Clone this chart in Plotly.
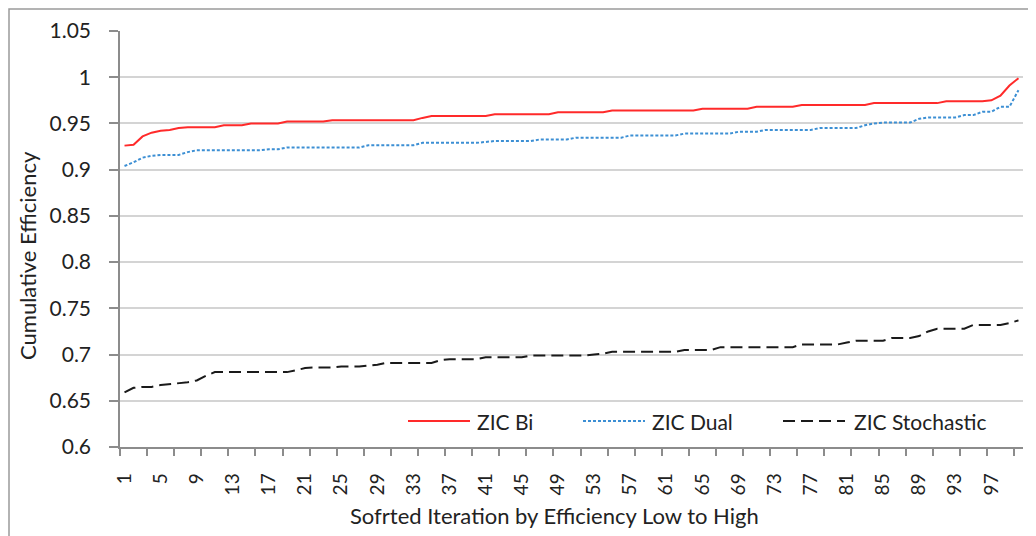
import plotly.graph_objects as go

iterations = list(range(1, 101))

zic_bi = [
    0.926, 0.927, 0.936, 0.940, 0.942, 0.943, 0.945, 0.946, 0.946, 0.946,
    0.946, 0.948, 0.948, 0.948, 0.950, 0.950, 0.950, 0.950, 0.952, 0.952,
    0.952, 0.952, 0.952, 0.9535, 0.9535, 0.9535, 0.9535, 0.9535, 0.9535, 0.9535,
    0.9535, 0.9535, 0.9535, 0.956, 0.958, 0.958, 0.958, 0.958, 0.958, 0.958,
    0.958, 0.960, 0.960, 0.960, 0.960, 0.960, 0.960, 0.960, 0.962, 0.962,
    0.962, 0.962, 0.962, 0.962, 0.964, 0.964, 0.964, 0.964, 0.964, 0.964,
    0.964, 0.964, 0.964, 0.964, 0.966, 0.966, 0.966, 0.966, 0.966, 0.966,
    0.968, 0.968, 0.968, 0.968, 0.968, 0.970, 0.970, 0.970, 0.970, 0.970,
    0.970, 0.970, 0.970, 0.972, 0.972, 0.972, 0.972, 0.972, 0.972, 0.972,
    0.972, 0.974, 0.974, 0.974, 0.974, 0.974, 0.975, 0.980, 0.991, 0.999,
]

zic_dual = [
    0.904, 0.908, 0.913, 0.915, 0.916, 0.916, 0.916, 0.919, 0.921, 0.921,
    0.921, 0.921, 0.921, 0.921, 0.921, 0.921, 0.922, 0.922, 0.924, 0.924,
    0.924, 0.924, 0.924, 0.924, 0.924, 0.924, 0.924, 0.9265, 0.9265, 0.9265,
    0.9265, 0.9265, 0.9265, 0.929, 0.929, 0.929, 0.929, 0.929, 0.929, 0.929,
    0.930, 0.931, 0.931, 0.931, 0.931, 0.931, 0.9327, 0.9327, 0.9327, 0.9327,
    0.9346, 0.9346, 0.9346, 0.9346, 0.9346, 0.9346, 0.937, 0.937, 0.937, 0.937,
    0.937, 0.937, 0.939, 0.939, 0.939, 0.939, 0.939, 0.939, 0.941, 0.941,
    0.941, 0.943, 0.943, 0.943, 0.943, 0.943, 0.943, 0.945, 0.945, 0.945,
    0.945, 0.945, 0.948, 0.950, 0.951, 0.951, 0.951, 0.951, 0.955, 0.9565,
    0.9565, 0.9565, 0.9565, 0.959, 0.959, 0.9626, 0.9626, 0.968, 0.968, 0.986,
]

zic_stochastic = [
    0.659, 0.664, 0.665, 0.665, 0.667, 0.668, 0.669, 0.670, 0.672, 0.677,
    0.681, 0.681, 0.681, 0.681, 0.681, 0.681, 0.681, 0.681, 0.681, 0.683,
    0.6855, 0.686, 0.686, 0.686, 0.687, 0.687, 0.687, 0.688, 0.689, 0.691,
    0.691, 0.691, 0.691, 0.691, 0.691, 0.694, 0.695, 0.695, 0.695, 0.695,
    0.697, 0.697, 0.697, 0.697, 0.697, 0.699, 0.699, 0.699, 0.699, 0.699,
    0.699, 0.699, 0.700, 0.701, 0.703, 0.703, 0.703, 0.703, 0.703, 0.703,
    0.703, 0.703, 0.705, 0.705, 0.705, 0.705, 0.708, 0.708, 0.708, 0.708,
    0.708, 0.708, 0.708, 0.708, 0.708, 0.711, 0.711, 0.711, 0.711, 0.711,
    0.713, 0.715, 0.715, 0.715, 0.715, 0.718, 0.718, 0.718, 0.720, 0.725,
    0.728, 0.728, 0.728, 0.728, 0.732, 0.732, 0.732, 0.732, 0.734, 0.737,
]

x_tick_vals = list(range(1, 101, 4))
x_tick_text = [str(v) for v in x_tick_vals]
y_tick_vals = [0.6, 0.65, 0.7, 0.75, 0.8, 0.85, 0.9, 0.95, 1.0, 1.05]
y_tick_text = ["0.6", "0.65", "0.7", "0.75", "0.8", "0.85", "0.9", "0.95", "1", "1.05"]

series_names = ["ZIC Bi", "ZIC Dual", "ZIC Stochastic"]
colors = ["#ff2a2a", "#3c8fd4", "#1a1a1a"]
dashes = ["solid", "3px,2px", "12px,6px"]

FONT = "Lato, 'Open Sans', sans-serif"
TXT = "#222222"
AX = "#8c8c8c"

# the page body adds an 8px offset; the figure is sized to fit the window
OFF = 8
W, H = 1036 - OFF, 536 - OFF
L, R, T, B = 120 - OFF, 13, 31 - OFF, 89
pw = W - L - R
ph = H - T - B

def px_to_paper_x(px):
    return (px - OFF - L) / pw

def px_to_paper_y(py):
    return (H - B - (py - OFF)) / ph

fig = go.Figure()
for name, vals, col, dash in zip(series_names, [zic_bi, zic_dual, zic_stochastic], colors, dashes):
    fig.add_trace(go.Scatter(
        x=iterations, y=vals, mode="lines", name=name,
        line=dict(color=col, width=2, dash=dash),
        showlegend=False,
    ))

shapes = []
annotations = []
# manual legend
legend_items = [(408, 470, 475), (583, 645, 650), (783, 845, 852)]
ly = px_to_paper_y(421)
for (x0, x1, xt), name, col, dash in zip(legend_items, series_names, colors, dashes):
    shapes.append(dict(type="line", xref="paper", yref="paper",
                       x0=px_to_paper_x(x0), x1=px_to_paper_x(x1), y0=ly, y1=ly,
                       line=dict(color=col, width=2, dash=dash)))
    annotations.append(dict(text=name, xref="paper", yref="paper",
                            x=px_to_paper_x(xt), y=ly, xanchor="left", yanchor="middle",
                            showarrow=False, font=dict(family=FONT, size=21, color=TXT)))

# outer chart border (kept just inside the figure's own edge)
shapes.append(dict(type="rect", xref="paper", yref="paper",
                   x0=px_to_paper_x(OFF + 1), x1=px_to_paper_x(1030),
                   y0=px_to_paper_y(560), y1=px_to_paper_y(OFF + 1),
                   line=dict(color="#9a9a9a", width=1.5), fillcolor="rgba(0,0,0,0)", layer="below"))

# axis titles
annotations.append(dict(text="Cumulative Efficiency", xref="paper", yref="paper",
                        x=px_to_paper_x(27), y=px_to_paper_y(256), textangle=-90,
                        xanchor="center", yanchor="middle", showarrow=False,
                        font=dict(family=FONT, size=22, color=TXT)))
annotations.append(dict(text="Sofrted Iteration by Efficiency Low to High", xref="paper", yref="paper",
                        x=px_to_paper_x(554), y=px_to_paper_y(515),
                        xanchor="center", yanchor="middle", showarrow=False,
                        font=dict(family=FONT, size=22, color=TXT)))

fig.update_layout(
    width=W, height=H,
    margin=dict(l=L, r=R, t=T, b=B, pad=0, autoexpand=False),
    paper_bgcolor="white", plot_bgcolor="white",
    shapes=shapes, annotations=annotations,
    font=dict(family=FONT, color=TXT),
    xaxis=dict(
        automargin=False,
        range=[0.5, 100.5], tickmode="array", tickvals=x_tick_vals, ticktext=x_tick_text,
        tickangle=-90, ticks="outside", ticklen=6, tickcolor="rgba(0,0,0,0)",
        ticklabelstandoff=11,
        tickfont=dict(family=FONT, size=19, color=TXT),
        showline=True, linecolor=AX, linewidth=1.5, showgrid=False, zeroline=False,
        minor=dict(tickmode="linear", tick0=0.5, dtick=3, ticks="outside", ticklen=7,
                   tickcolor=AX, tickwidth=1.5, showgrid=False),
    ),
    yaxis=dict(
        automargin=False,
        range=[0.6, 1.05], tickmode="array", tickvals=y_tick_vals, ticktext=y_tick_text,
        ticks="outside", ticklen=9, tickcolor=AX, tickwidth=1.5,
        ticklabelstandoff=14,
        tickfont=dict(family=FONT, size=21, color=TXT),
        showline=True, linecolor=AX, linewidth=1.5,
        showgrid=True, gridcolor="#d4d4d4", gridwidth=1.5, zeroline=False,
    ),
)

fig.write_html("out.html")
